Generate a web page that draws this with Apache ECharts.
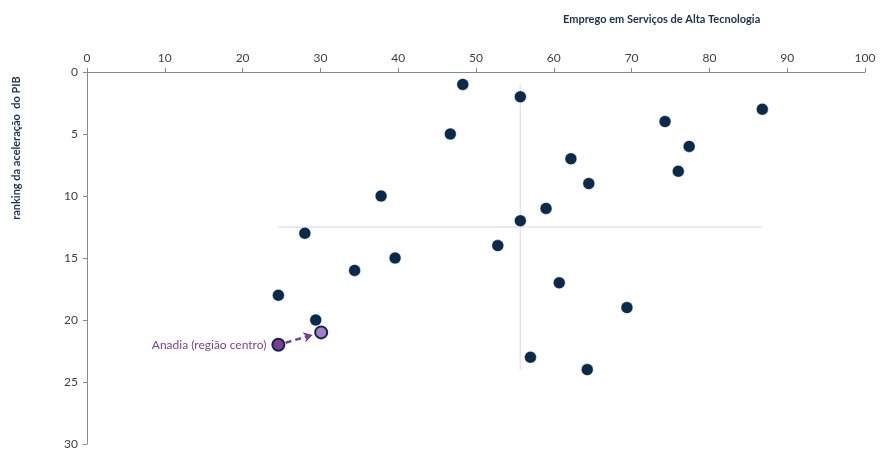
<!DOCTYPE html>
<html>
<head>
<meta charset="utf-8">
<script src="https://cdn.jsdelivr.net/npm/echarts@6/dist/echarts.min.js"></script>
<style>
  html, body { margin: 0; padding: 0; background: #fff; }
  #chart { width: 881px; height: 451px; }
</style>
</head>
<body>
<div id="chart"></div>
<script>
// municípios: emprego em serviços de alta tecnologia (x) vs ranking da aceleração do PIB (y)
var empregoX = [48.3, 55.7, 86.8, 74.3, 46.7, 77.4, 62.2, 76.0, 64.5, 37.8, 59.0, 55.7,
                28.0, 52.8, 39.6, 34.4, 60.7, 24.6, 69.4, 29.4, 57.0, 64.3];
var rankingY = [1, 2, 3, 4, 5, 6, 7, 8, 9, 10, 11, 12,
                13, 14, 15, 16, 17, 18, 19, 20, 23, 24];
// Anadia: posição anterior e posição actual
var anadiaX = [24.6, 30.1];
var anadiaY = [22, 21];
var anadiaLabel = "Anadia (região centro)";

var xTicks = [0, 100, 10];
var yTicks = [0, 30, 5];

var navy = "#0A2A4C";
var purple = "#7B3F98";

function median(arr) {
  var s = arr.slice().sort(function (a, b) { return a - b; });
  var n = s.length;
  return n % 2 ? s[(n - 1) / 2] : (s[n / 2 - 1] + s[n / 2]) / 2;
}

var allX = empregoX.concat(anadiaX);
var allY = rankingY.concat(anadiaY);
var medX = median(allX), medY = median(allY);
var minX = Math.min.apply(null, allX), maxX = Math.max.apply(null, allX);
var minY = Math.min.apply(null, allY), maxY = Math.max.apply(null, allY);

// seta encurtada para não tapar os círculos
var f0 = 0.17, f1 = 0.2;
var dx = anadiaX[1] - anadiaX[0], dy = anadiaY[1] - anadiaY[0];
var arrowFrom = [anadiaX[0] + f0 * dx, anadiaY[0] + f0 * dy];
var arrowTo = [anadiaX[1] - f1 * dx, anadiaY[1] - f1 * dy];

var font = "Lato, 'Open Sans', sans-serif";

var option = {
  animation: false,
  textStyle: { fontFamily: font },
  title: {
    text: "Emprego em Serviços de Alta Tecnologia",
    left: 558,
    top: 9,
    textStyle: { fontSize: 11, fontWeight: "bold", color: "#1B2F55", fontFamily: font }
  },
  graphic: [{
    type: "text",
    x: 16,
    y: 148,
    rotation: Math.PI / 2,
    style: {
      text: "ranking da aceleração  do PIB",
      fill: "#1B2F55",
      font: "bold 11px " + font,
      textAlign: "center",
      textVerticalAlign: "middle"
    }
  }],
  grid: { left: 87, right: 16, top: 72, bottom: 7 },
  xAxis: {
    type: "value",
    position: "top",
    min: xTicks[0], max: xTicks[1], interval: xTicks[2],
    axisLine: { lineStyle: { color: "#8A8A8A", width: 1 } },
    axisTick: { show: true, length: 4, lineStyle: { color: "#8A8A8A" } },
    axisLabel: { color: "#404040", fontSize: 12, margin: 8 },
    splitLine: { show: false }
  },
  yAxis: {
    type: "value",
    inverse: true,
    min: yTicks[0], max: yTicks[1], interval: yTicks[2],
    axisLine: { show: true, lineStyle: { color: "#8A8A8A", width: 1 } },
    axisTick: { show: true, length: 4, lineStyle: { color: "#8A8A8A" } },
    axisLabel: { color: "#404040", fontSize: 12, margin: 9 },
    splitLine: { show: false }
  },
  series: [
    {
      name: "medianas",
      type: "line",
      silent: true,
      symbol: "none",
      z: 1,
      lineStyle: { color: "#E8DFF2", width: 1.5 },
      data: [[medX, minY], [medX, maxY], null, [minX, medY], [maxX, medY]],
      connectNulls: false
    },
    {
      name: "municípios",
      type: "scatter",
      symbolSize: 12,
      z: 3,
      itemStyle: { color: navy, opacity: 1, borderColor: "#fff", borderWidth: 0.5 },
      data: empregoX.map(function (x, i) { return [x, rankingY[i]]; })
    },
    {
      name: "Anadia",
      type: "scatter",
      symbolSize: 12,
      z: 4,
      itemStyle: { opacity: 1 },
      data: [
        {
          value: [anadiaX[0], anadiaY[0]],
          itemStyle: { color: "#7E3C96", borderColor: navy, borderWidth: 2, opacity: 1 },
          label: {
            show: true, position: "left", distance: 5,
            formatter: anadiaLabel, color: purple, fontSize: 12, fontFamily: font
          }
        },
        {
          value: [anadiaX[1], anadiaY[1]],
          itemStyle: { color: "#A87CC6", borderColor: navy, borderWidth: 2, opacity: 1 }
        }
      ],
      markLine: {
        silent: true,
        symbol: ["none", "arrow"],
        symbolSize: [8, 9],
        label: { show: false },
        lineStyle: { color: purple, width: 2.5, type: [6, 4] },
        data: [[{ coord: arrowFrom }, { coord: arrowTo }]]
      }
    }
  ]
};

var chart = echarts.init(document.getElementById("chart"));
chart.setOption(option);
</script>
</body>
</html>
